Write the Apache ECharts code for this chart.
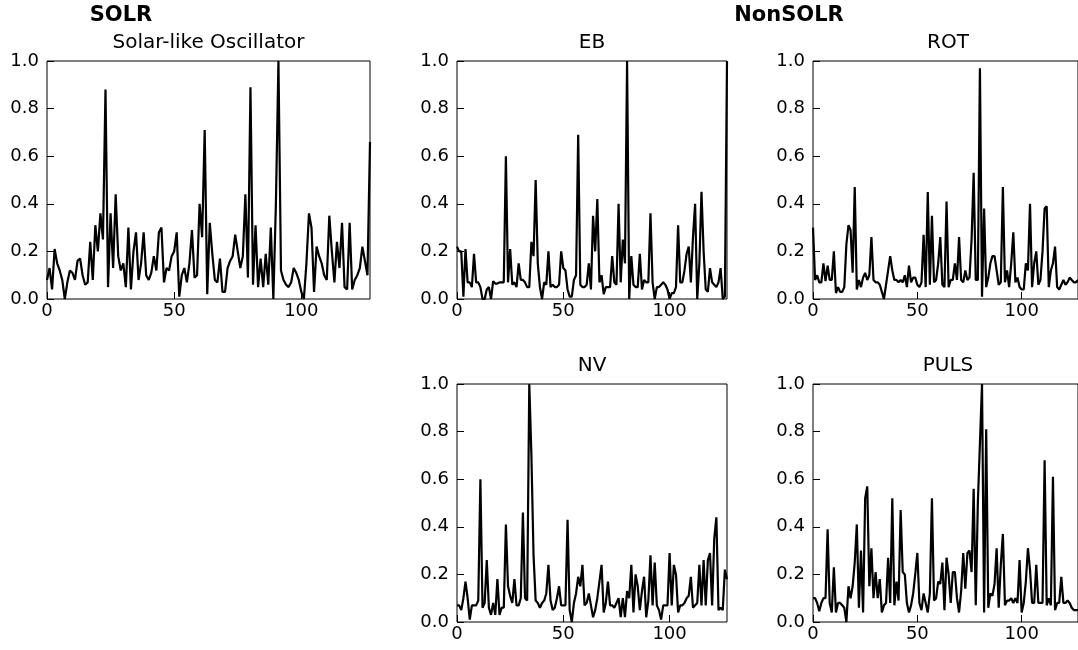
<!DOCTYPE html>
<html><head><meta charset="utf-8">
<script src="https://cdn.jsdelivr.net/npm/echarts@6/dist/echarts.min.js"></script>
<style>html,body{margin:0;padding:0;background:#fff}#c{width:1078px;height:650px}</style>
</head><body><div id="c"></div>
<script>
// ---- data ----
const SOLR_VALUES = [0.08,0.13,0.04,0.21,0.15,0.12,0.08,0.0,0.07,0.12,0.11,0.08,0.16,0.17,0.1,0.06,0.07,0.24,0.08,0.31,0.2,0.36,0.25,0.88,0.05,0.36,0.13,0.44,0.18,0.12,0.15,0.05,0.3,0.04,0.2,0.28,0.08,0.15,0.28,0.1,0.08,0.11,0.18,0.12,0.28,0.3,0.07,0.13,0.12,0.18,0.2,0.28,0.01,0.1,0.13,0.07,0.15,0.29,0.09,0.1,0.4,0.26,0.71,0.02,0.32,0.19,0.08,0.07,0.17,0.03,0.03,0.13,0.16,0.18,0.27,0.2,0.13,0.18,0.44,0.09,0.89,0.06,0.31,0.05,0.17,0.05,0.19,0.06,0.3,0.0,0.4,1.0,0.12,0.08,0.06,0.05,0.07,0.13,0.11,0.08,0.03,0.0,0.15,0.36,0.3,0.03,0.22,0.18,0.15,0.1,0.08,0.35,0.2,0.07,0.24,0.13,0.32,0.05,0.04,0.32,0.04,0.08,0.1,0.13,0.22,0.16,0.1,0.66];
const EB_VALUES = [0.22,0.2,0.2,0.01,0.21,0.07,0.07,0.05,0.19,0.07,0.07,0.05,0.0,0.0,0.04,0.05,0.0,0.075,0.065,0.065,0.07,0.07,0.07,0.6,0.07,0.21,0.06,0.07,0.05,0.15,0.08,0.08,0.07,0.05,0.05,0.24,0.18,0.5,0.15,0.05,0.0,0.07,0.06,0.2,0.05,0.06,0.05,0.05,0.06,0.2,0.13,0.12,0.04,0.01,0.01,0.08,0.1,0.69,0.06,0.05,0.05,0.06,0.15,0.04,0.35,0.2,0.42,0.07,0.1,0.02,0.05,0.05,0.05,0.18,0.07,0.06,0.4,0.07,0.25,0.15,1.0,0.0,0.18,0.06,0.05,0.05,0.19,0.04,0.08,0.07,0.07,0.36,0.07,0.0,0.05,0.05,0.06,0.07,0.06,0.04,0.0,0.025,0.025,0.05,0.31,0.07,0.07,0.12,0.19,0.22,0.07,0.26,0.4,0.0,0.15,0.45,0.2,0.04,0.03,0.13,0.07,0.06,0.05,0.07,0.13,0.0,0.01,1.0];
const ROT_VALUES = [0.3,0.08,0.1,0.07,0.07,0.15,0.075,0.14,0.08,0.08,0.2,0.025,0.05,0.03,0.03,0.05,0.23,0.31,0.29,0.11,0.47,0.04,0.08,0.05,0.09,0.11,0.08,0.1,0.26,0.08,0.07,0.07,0.06,0.03,0.0,0.06,0.12,0.18,0.12,0.08,0.08,0.07,0.08,0.07,0.1,0.05,0.14,0.07,0.09,0.09,0.06,0.05,0.07,0.27,0.05,0.45,0.06,0.35,0.07,0.08,0.15,0.26,0.06,0.05,0.41,0.05,0.08,0.08,0.15,0.08,0.26,0.08,0.07,0.12,0.08,0.09,0.25,0.53,0.08,0.08,0.97,0.01,0.38,0.05,0.09,0.15,0.18,0.18,0.12,0.06,0.07,0.47,0.07,0.12,0.05,0.15,0.28,0.07,0.09,0.05,0.04,0.04,0.15,0.12,0.4,0.05,0.15,0.2,0.06,0.08,0.2,0.38,0.39,0.05,0.12,0.15,0.22,0.05,0.04,0.06,0.08,0.06,0.07,0.09,0.08,0.07,0.07,0.08];
const NV_VALUES = [0.07,0.07,0.05,0.1,0.17,0.1,0.01,0.07,0.07,0.07,0.09,0.6,0.06,0.08,0.26,0.06,0.03,0.08,0.03,0.18,0.03,0.06,0.06,0.41,0.15,0.11,0.08,0.18,0.07,0.07,0.1,0.46,0.1,0.09,1.0,0.7,0.28,0.09,0.08,0.06,0.08,0.09,0.12,0.24,0.09,0.05,0.06,0.1,0.15,0.07,0.07,0.07,0.43,0.05,0.0,0.08,0.12,0.19,0.15,0.24,0.07,0.08,0.12,0.07,0.02,0.05,0.1,0.17,0.24,0.04,0.08,0.17,0.07,0.07,0.06,0.08,0.1,0.02,0.1,0.02,0.13,0.1,0.24,0.04,0.2,0.15,0.05,0.13,0.19,0.02,0.09,0.28,0.07,0.25,0.07,0.05,0.01,0.07,0.07,0.07,0.29,0.07,0.24,0.2,0.04,0.07,0.07,0.08,0.1,0.11,0.19,0.06,0.07,0.08,0.24,0.07,0.26,0.07,0.26,0.29,0.07,0.35,0.44,0.05,0.06,0.05,0.22,0.18];
const PULS_VALUES = [0.1,0.1,0.08,0.045,0.08,0.1,0.1,0.39,0.08,0.04,0.23,0.04,0.08,0.08,0.07,0.06,0.0,0.15,0.1,0.15,0.25,0.41,0.06,0.3,0.04,0.52,0.57,0.15,0.31,0.1,0.21,0.1,0.18,0.04,0.07,0.08,0.27,0.08,0.52,0.07,0.17,0.09,0.47,0.21,0.2,0.08,0.04,0.07,0.12,0.2,0.29,0.08,0.05,0.12,0.08,0.04,0.12,0.52,0.09,0.1,0.17,0.16,0.25,0.05,0.27,0.2,0.08,0.21,0.21,0.1,0.04,0.13,0.29,0.14,0.29,0.3,0.21,0.56,0.07,0.5,0.75,1.0,0.04,0.81,0.06,0.12,0.11,0.16,0.31,0.06,0.24,0.37,0.07,0.09,0.09,0.1,0.08,0.1,0.08,0.26,0.04,0.08,0.17,0.31,0.22,0.08,0.08,0.24,0.08,0.08,0.08,0.68,0.07,0.1,0.07,0.61,0.05,0.08,0.08,0.19,0.08,0.08,0.09,0.08,0.06,0.05,0.05,0.05];
const X_TICKS = [0, 50, 100];
const Y_TICKS = [0, 0.2, 0.4, 0.6, 0.8, 1.0];
const PANEL_TITLES = ['Solar-like Oscillator', 'EB', 'ROT', 'NV', 'PULS'];
const GROUP_TITLES = ['SOLR', 'NonSOLR'];

// ---- layout ----
const FONT = 'DejaVu Sans';
const series_values = [SOLR_VALUES, EB_VALUES, ROT_VALUES, NV_VALUES, PULS_VALUES];
const boxes = [
  {left: 47, top: 61, width: 323, height: 238},
  {left: 457, top: 61, width: 270, height: 238},
  {left: 813, top: 61, width: 270, height: 238},
  {left: 457, top: 384, width: 270, height: 238},
  {left: 813, top: 384, width: 270, height: 238}
];
const groupPos = [[121, 16], [789, 16]];

const grids = [], xAxes = [], yAxes = [], series = [], graphics = [];
boxes.forEach((b, k) => {
  grids.push({left: b.left, top: b.top, width: b.width, height: b.height,
    show: true, borderColor: '#000', borderWidth: 1, containLabel: false});
  xAxes.push({type: 'value', gridIndex: k, min: 0, max: series_values[k].length - 1,
    axisLine: {show: false}, splitLine: {show: false},
    axisTick: {show: true, inside: true, length: 7, customValues: X_TICKS, lineStyle: {color: '#000', width: 1}},
    axisLabel: {show: true, customValues: X_TICKS, color: '#000', fontFamily: FONT, fontSize: 18, margin: 3}
  });
  yAxes.push({type: 'value', gridIndex: k, min: 0, max: 1, interval: 0.2,
    axisLine: {show: false}, splitLine: {show: false},
    axisTick: {show: true, inside: true, length: 7, lineStyle: {color: '#000', width: 1}},
    axisLabel: {show: true, color: '#000', fontFamily: FONT, fontSize: 18, margin: 8,
      formatter: v => v.toFixed(1)}
  });
  series.push({type: 'line', xAxisIndex: k, yAxisIndex: k, showSymbol: false, symbol: 'none',
    animation: false, lineStyle: {color: '#000', width: 2.2}, itemStyle: {color: '#000'},
    data: series_values[k].map((v, i) => [i, v])});
  graphics.push({type: 'text', x: b.left + b.width / 2, y: b.top - 18,
    style: {text: PANEL_TITLES[k], fill: '#000', font: '20px "DejaVu Sans"', textAlign: 'center', textVerticalAlign: 'middle'}});
});
GROUP_TITLES.forEach((t, k) => {
  graphics.push({type: 'text', x: groupPos[k][0], y: groupPos[k][1],
    style: {text: t, fill: '#000', font: 'bold 21px "DejaVu Sans"', textAlign: 'center', textVerticalAlign: 'middle'}});
});

const chart = echarts.init(document.getElementById('c'), null, {renderer: 'canvas'});
chart.setOption({
  animation: false,
  backgroundColor: '#fff',
  grid: grids, xAxis: xAxes, yAxis: yAxes, series: series, graphic: graphics
});
</script>
</body></html>
